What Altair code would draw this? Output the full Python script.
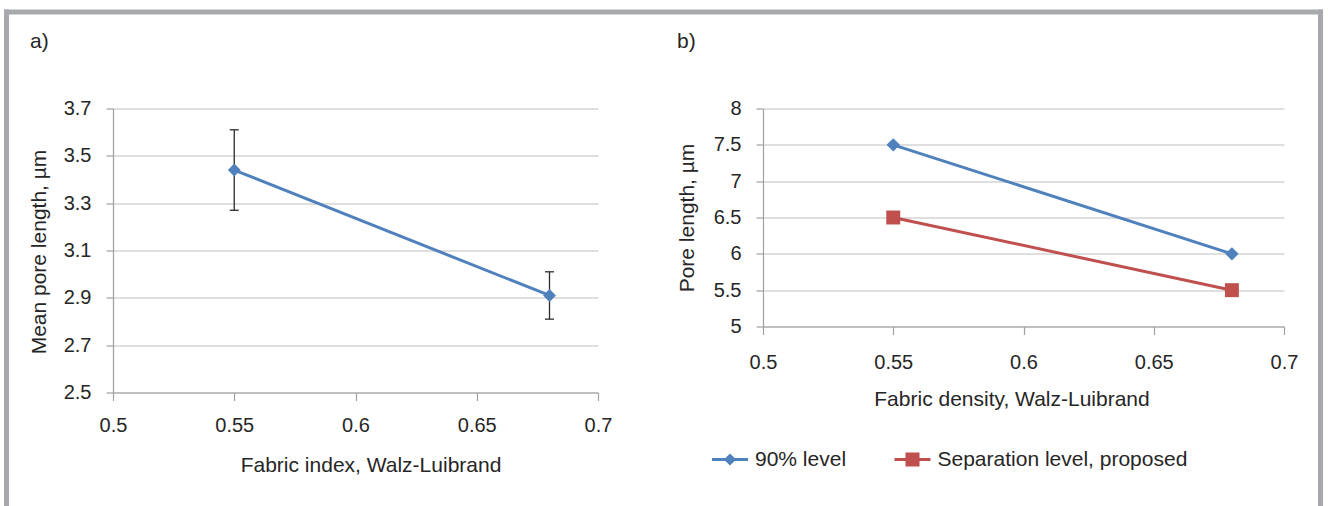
import altair as alt
import pandas as pd

FONT = "Liberation Sans"
TXT = "#262626"
BLUE = "#4F81BD"
RED = "#C0504D"
GRID = "#BFBFBF"
AXIS = "#A0A0A0"
FRAME = "#A7A9AC"
ERR = "#2B2B2B"

# ---------------- data ----------------
x_ticks = [0.5, 0.55, 0.6, 0.65, 0.7]

a_x = [0.55, 0.68]
a_mean = [3.44, 2.91]
a_low = [3.27, 2.81]
a_high = [3.61, 3.01]
a_y_ticks = [2.5, 2.7, 2.9, 3.1, 3.3, 3.5, 3.7]

b_x = [0.55, 0.68]
b_series = ["90% level", "Separation level, proposed"]
b_90 = [7.5, 6.0]
b_sep = [6.5, 5.5]
b_y_ticks = [5, 5.5, 6, 6.5, 7, 7.5, 8]

panel_labels = ["a)", "b)"]
a_xtitle = "Fabric index, Walz-Luibrand"
a_ytitle = "Mean pore length, µm"
b_xtitle = "Fabric density, Walz-Luibrand"
b_ytitle = "Pore length, µm"

da = pd.DataFrame({"x": a_x, "y": a_mean, "lo": a_low, "hi": a_high})
db = pd.DataFrame({
    "x": b_x + b_x,
    "y": b_90 + b_sep,
    "series": [b_series[0]] * len(b_x) + [b_series[1]] * len(b_x),
})
dleg = pd.DataFrame({"series": b_series})
one = pd.DataFrame({"k": [0]})

WA, HA = 485, 284
WB, HB = 521, 218

# ---------------- panel a ----------------
xa_axis = alt.Axis(values=x_ticks, format="~g", title=a_xtitle, grid=False,
                   tickSize=8, labelPadding=14.5, labelFlush=False,
                   titleX=257.5, titleY=79, titleBaseline="alphabetic", titleAlign="center")
ya_axis = alt.Axis(values=a_y_ticks, format=".1f", title=a_ytitle, grid=True,
                   tickSize=7, labelPadding=15, titleX=-68, titleY=143,
                   titleAngle=270, titleBaseline="alphabetic", titleAlign="center")
xa = alt.X("x:Q", scale=alt.Scale(domain=[0.5, 0.7], nice=False, zero=False), axis=xa_axis)
ya_scale = alt.Scale(domain=[2.5, 3.7], nice=False, zero=False)

base_a = alt.Chart(da)
line_a = base_a.mark_line(color=BLUE, strokeWidth=3).encode(
    x=xa, y=alt.Y("y:Q", scale=ya_scale, axis=ya_axis))
err_a = base_a.mark_rule(color=ERR, strokeWidth=1.3).encode(
    x=xa, y=alt.Y("lo:Q", scale=ya_scale, axis=ya_axis), y2="hi:Q")
cap_lo = base_a.mark_tick(orient="horizontal", size=9, thickness=1.3, color=ERR, opacity=1).encode(
    x=xa, y=alt.Y("lo:Q", scale=ya_scale, axis=ya_axis))
cap_hi = base_a.mark_tick(orient="horizontal", size=9, thickness=1.3, color=ERR, opacity=1).encode(
    x=xa, y=alt.Y("hi:Q", scale=ya_scale, axis=ya_axis))
pts_a = base_a.mark_point(shape="diamond", filled=True, size=165, color=BLUE, opacity=1).encode(
    x=xa, y=alt.Y("y:Q", scale=ya_scale, axis=ya_axis))

lab_a = alt.Chart(pd.DataFrame({"t": [panel_labels[0]]})).mark_text(
    align="left", baseline="alphabetic", fontSize=21, font=FONT, color=TXT
).encode(text="t:N", x=alt.value(-83), y=alt.value(-61))

# frame (decoration around the whole figure), relative to panel a origin
fr_top = alt.Chart(one).mark_rect(color=FRAME).encode(
    x=alt.value(-109), x2=alt.value(1210), y=alt.value(-99), y2=alt.value(-94))
fr_left = alt.Chart(one).mark_rect(color=FRAME).encode(
    x=alt.value(-109), x2=alt.value(-104), y=alt.value(-99), y2=alt.value(397.5))
fr_right = alt.Chart(one).mark_rect(color=FRAME).encode(
    x=alt.value(1205), x2=alt.value(1210), y=alt.value(-99), y2=alt.value(397.5))

panel_a = alt.layer(fr_top, fr_left, fr_right, line_a, err_a, cap_lo, cap_hi, pts_a,
                    lab_a).properties(width=WA, height=HA)

# ---------------- panel b ----------------
xb_axis = alt.Axis(values=x_ticks, format="~g", title=b_xtitle, grid=False,
                   tickSize=8, labelPadding=18, labelFlush=False,
                   titleX=248.5, titleY=79, titleBaseline="alphabetic", titleAlign="center")
yb_axis = alt.Axis(values=b_y_ticks, format="~g", title=b_ytitle, grid=True,
                   tickSize=7, labelPadding=15, titleX=-70, titleY=109,
                   titleAngle=270, titleBaseline="alphabetic", titleAlign="center")
xb = alt.X("x:Q", scale=alt.Scale(domain=[0.5, 0.7], nice=False, zero=False), axis=xb_axis)
yb = alt.Y("y:Q", scale=alt.Scale(domain=[5, 8], nice=False, zero=False), axis=yb_axis)
color_scale = alt.Scale(domain=b_series, range=[BLUE, RED])

# legend symbols: line segment with marker (unit square coordinates)
p_diamond_leg = "M-1,-0.085H1V0.085H-1Z M0,-0.34L0.34,0L0,0.34L-0.34,0Z"
p_square_leg = "M-1,-0.085H1V0.085H-1Z M-0.39,-0.39H0.39V0.39H-0.39Z"

base_b = alt.Chart(db)
line_b = base_b.mark_line(strokeWidth=3).encode(
    x=xb, y=yb, color=alt.Color("series:N", scale=color_scale, legend=None))
pts_b1 = base_b.transform_filter(alt.datum.series == b_series[0]).mark_point(
    shape="diamond", filled=True, size=180, opacity=1).encode(
    x=xb, y=yb, color=alt.Color("series:N", scale=color_scale, legend=None))
pts_b2 = base_b.transform_filter(alt.datum.series == b_series[1]).mark_point(
    shape="square", filled=True, size=195, opacity=1).encode(
    x=xb, y=yb, color=alt.Color("series:N", scale=color_scale, legend=None))
plot_b = alt.layer(line_b, pts_b1, pts_b2)

# legend row below the panel (series placed by a point scale)
leg_x = alt.X("series:N", scale=alt.Scale(domain=b_series, range=[-33, 149.5], padding=0),
              axis=None)
leg_sym = alt.Chart(dleg).mark_point(filled=True, opacity=1, size=1296).encode(
    x=leg_x, y=alt.value(351),
    color=alt.Color("series:N", scale=color_scale, legend=None),
    shape=alt.Shape("series:N", scale=alt.Scale(domain=b_series, range=[p_diamond_leg, p_square_leg]),
                    legend=None))
leg_txt = alt.Chart(dleg).mark_text(align="left", baseline="middle", dx=25, fontSize=21,
                                    font=FONT, color=TXT).encode(
    x=leg_x, y=alt.value(351), text="series:N")
legend_b = alt.layer(leg_sym, leg_txt)

lab_b = alt.Chart(pd.DataFrame({"t": [panel_labels[1]]})).mark_text(
    align="left", baseline="alphabetic", fontSize=21, font=FONT, color=TXT
).encode(text="t:N", x=alt.value(-86), y=alt.value(-61))

panel_b = alt.layer(plot_b, legend_b, lab_b).resolve_scale(
    x="independent").properties(width=WB, height=HB)

chart = alt.hconcat(panel_a, panel_b, spacing=165, bounds="flush").properties(
    padding={"left": 4, "top": 9.5, "right": 5, "bottom": 0},
    background="white",
).configure_view(stroke=None).configure_axis(
    labelFont=FONT, titleFont=FONT, labelFontSize=20, titleFontSize=21,
    titleFontWeight="normal", labelColor=TXT, titleColor=TXT,
    domainColor=AXIS, tickColor=AXIS, gridColor=GRID, domainWidth=1.2,
    tickWidth=1.2, gridWidth=1.2,
)

chart.save("out.html", embed_options={"renderer": "svg", "actions": False})
